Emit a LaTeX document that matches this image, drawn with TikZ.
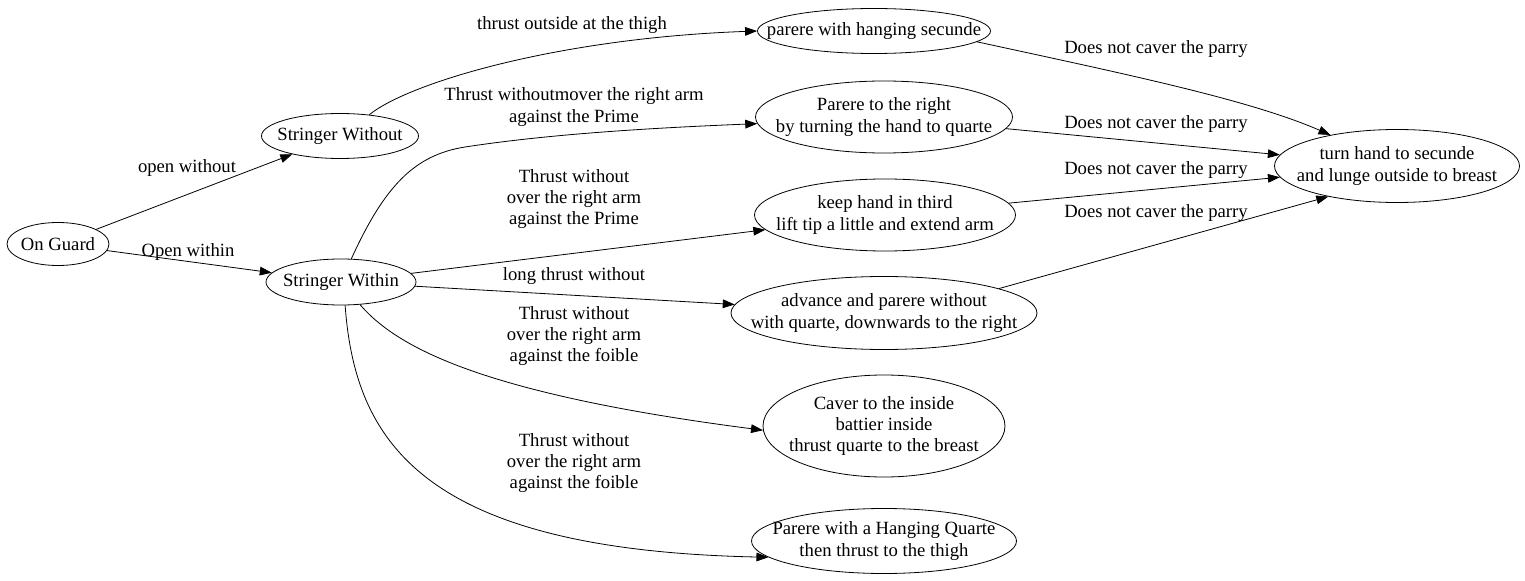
\documentclass[tikz,border=0pt]{standalone}
\usepackage{fontspec}
\setmainfont{Liberation Serif}
\usetikzlibrary{shapes.geometric, arrows.meta}
\tikzset{state/.style n args={2}{
    draw, ellipse, line width=0.6pt, inner sep=-40pt,
    minimum width=#1, minimum height=#2
  },
  move/.style={draw, line width=0.6pt, -{Triangle[length=9pt, width=6.5pt]}},
  lbl/.style={align=center, inner sep=0pt}
}
\begin{document}
\begin{tikzpicture}[x=0.75pt, y=-0.75pt, every node/.style={font=\fontsize{14}{16}\selectfont}]
      \useasboundingbox (0,0) rectangle (1525,581);
      \node[state={76.5pt}{32.25pt}] (og) at (58,244) {On Guard};
      \node[state={117.75pt}{33.75pt}] (swo) at (340,136) {Stringer Without};
      \node[state={112.5pt}{34.5pt}] (swi) at (341,282) {Stringer Within};
      \node[state={174.75pt}{33.75pt}] (hs) at (874,31) {parere with hanging secunde};
      \node[state={192.75pt}{54pt}, align=center] (pr) at (884,117) {Parere to the right\\by turning the hand to quarte};
      \node[state={195.75pt}{54pt}, align=center] (kh) at (885,215) {keep hand in third\\lift tip a little and extend arm};
      \node[state={229.5pt}{54.75pt}, align=center] (ad) at (884,313) {advance and parere without\\with quarte, downwards to the right};
      \node[state={181.5pt}{76.5pt}, align=center] (cv) at (884,426) {Caver to the inside\\battier inside\\thrust quarte to the breast};
      \node[state={198.75pt}{48.75pt}, align=center] (hq) at (884,541) {Parere with a Hanging Quarte\\then thrust to the thigh};
      \node[state={183.75pt}{54.75pt}, align=center] (th) at (1397,166) {turn hand to secunde\\and lunge outside to breast};

      \draw[move] (og) -- (swo);
      \node[lbl] (l1) at (187,168) {open without};
      \draw[move] (og) -- (swi);
      \node[lbl] (l2) at (188,252) {Open within};
      \draw[move] (swo.36) .. controls (410,82) and (560,38) .. (hs.180);
      \node[lbl] (l3) at (572,25) {thrust outside at the thigh};
      \draw[move] (swi.66) .. controls (385,185) and (415,155) .. (465,147)
        .. controls (550,134) and (650,128) .. (pr.183);
      \node[lbl] (l4) at (574,107) {Thrust withoutmover the right arm\\against the Prime};
      \draw[move] (swi) -- (kh);
      \node[lbl] (l5) at (574,199) {Thrust without\\over the right arm\\against the Prime};
      \draw[move] (swi) -- (ad);
      \node[lbl] (l6) at (574,276) {long thrust without};
      \draw[move] (swi.-50) .. controls (395,345) and (475,393) .. (cv.182);
      \node[lbl] (l7) at (574,336) {Thrust without\\over the right arm\\against the foible};
      \draw[move] (swi.-80) .. controls (355,440) and (420,550) .. (hq.188);
      \node[lbl] (l8) at (574,463) {Thrust without\\over the right arm\\against the foible};

      \draw[move] (hs.-6) .. controls (1130,75) and (1250,100) .. (th.155);
      \node[lbl] (l9) at (1156,49) {Does not caver the parry};
      \draw[move] (pr) -- (th);
      \node[lbl] (l10) at (1156,124) {Does not caver the parry};
      \draw[move] (kh) -- (th);
      \node[lbl] (l11) at (1156,170) {Does not caver the parry};
      \draw[move] (ad.12) -- (th.204);
      \node[lbl] (l12) at (1156,213) {Does not caver the parry};
    \end{tikzpicture}
\end{document}
